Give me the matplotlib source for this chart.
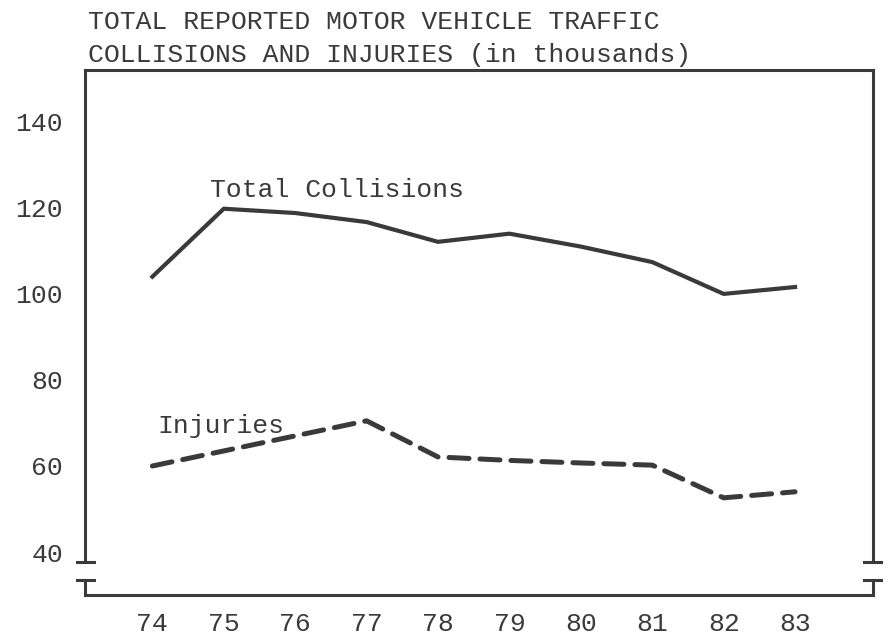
#=========================================================================
# Total reported motor vehicle traffic collisions and injuries, 1974-1983
#=========================================================================

import matplotlib.pyplot as plt

# Data (in thousands)

years = [74, 75, 76, 77, 78, 79, 80, 81, 82, 83]
yearLabels = ['74', '75', '76', '77', '78', '79', '80', '81', '82', '83']
collisions = [104.0, 119.8, 118.8, 116.7, 112.1, 114.0, 111.0, 107.4, 100.0, 101.6]
injuries = [60.0, 63.5, 67.0, 70.5, 62.1, 61.3, 60.7, 60.2, 52.6, 54.0]
yTicks = [40, 60, 80, 100, 120, 140]

ink = '#3a3a3a'
font = ['Liberation Mono', 'DejaVu Sans Mono']
size = 19

plt.rcParams['font.family'] = font

fig = plt.figure(figsize=(8.88, 6.44), dpi=100)
ax = fig.add_axes([0.096, 0.076, 0.887, 0.815])

# The two series

ax.plot(years, collisions, color=ink, linewidth=3, solid_joinstyle='round')
ax.plot(years, injuries, color=ink, linewidth=3.6, dashes=(4, 2.2),
        dash_capstyle='round')

# Series labels written on the chart

ax.text(74.8, 124.2, 'Total Collisions', fontsize=size, color=ink,
        ha='left', va='center')
ax.text(74.07, 69.3, 'Injuries', fontsize=size, color=ink,
        ha='left', va='center')

# Axes limits and ticks

ax.set_xlim(73.06, 84.09)
ax.set_ylim(30, 152)
ax.set_xticks(years)
ax.set_xticklabels(yearLabels)
ax.set_yticks(yTicks)
ax.tick_params(length=0, labelsize=size, labelcolor=ink)
ax.tick_params(axis='y', pad=16)
ax.tick_params(axis='x', pad=12)

# Frame with a broken y axis near the bottom

for side in ['left', 'right', 'top', 'bottom']:
    ax.spines[side].set_color(ink)
    ax.spines[side].set_linewidth(2.2)

breakTop = 37.6
breakLow = 33.5
ax.spines['left'].set_bounds(breakTop, 152)
ax.spines['right'].set_bounds(breakTop, 152)

xmin, xmax = ax.get_xlim()
capw = 0.12
for x in [xmin, xmax]:
    ax.plot([x - capw, x + capw], [breakTop, breakTop], color=ink,
            linewidth=2.2, clip_on=False)
    ax.plot([x, x], [30, breakLow], color=ink, linewidth=2.2, clip_on=False)
    ax.plot([x - capw, x + capw], [breakLow, breakLow], color=ink,
            linewidth=2.2, clip_on=False)

# Title, typed in two lines above the frame

fig.text(88 / 888, 1 - 22 / 644, 'TOTAL REPORTED MOTOR VEHICLE TRAFFIC',
         fontsize=size, color=ink, ha='left', va='center')
fig.text(88 / 888, 1 - 55 / 644, 'COLLISIONS AND INJURIES (in thousands)',
         fontsize=size, color=ink, ha='left', va='center')

fig.savefig('out.png', dpi=100)
